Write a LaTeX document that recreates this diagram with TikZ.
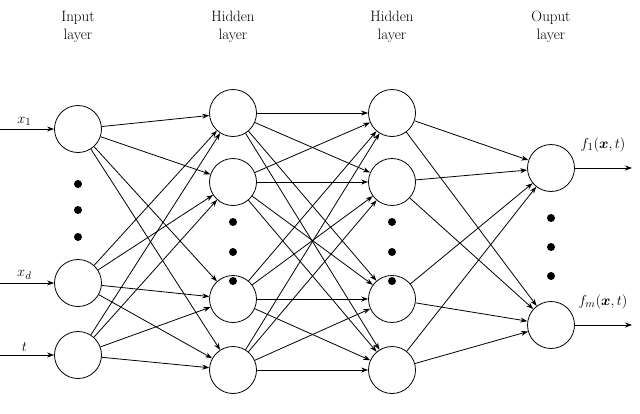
\documentclass[tikz,border=0pt]{standalone}
\usepackage{amsmath,bm}
\usetikzlibrary{arrows.meta}
\begin{document}
\begin{tikzpicture}[x=1pt,y=-1pt,line width=0.8pt,
  neu/.style={circle,draw,minimum size=47pt,inner sep=0pt},
  dot/.style={circle,fill,inner sep=0pt,minimum size=8pt},
  tx/.style={font=\fontsize{15}{18}\selectfont},
  hd/.style={align=center,tx},
  arr/.style={-{Stealth[length=7pt,width=5pt]}}]
\useasboundingbox (0,0) rectangle (640,413);
\node[neu] (i1) at (78,129) {};
\node[neu] (i2) at (78,283) {};
\node[neu] (i3) at (78,355) {};
\foreach \y [count=\k] in {113,182,299,370}{
  \node[neu] (a\k) at (233,\y) {};
  \node[neu] (b\k) at (392,\y) {};}
\node[neu] (o1) at (551,168) {};
\node[neu] (o2) at (551,325) {};
\foreach \y [count=\k] in {184,210,237}{\node[dot] (di\k) at (78,\y) {};}
\foreach \y [count=\k] in {222,252,281}{\node[dot] (da\k) at (233,\y) {};\node[dot] (db\k) at (392,\y) {};}
\foreach \y [count=\k] in {218,247,276}{\node[dot] (do\k) at (551,\y) {};}
\foreach \i in {1,2,3}{\foreach \j in {1,2,3,4}{\draw[arr] (i\i) -- (a\j);}}
\foreach \i in {1,2,3,4}{\foreach \j in {1,2,3,4}{\draw[arr] (a\i) -- (b\j);}}
\foreach \i in {1,2,3,4}{\foreach \j in {1,2}{\draw[arr] (b\i) -- (o\j);}}
\coordinate (s1) at (0,129); \coordinate (s2) at (0,283); \coordinate (s3) at (0,355);
\draw[arr] (s1) -- (i1) node[pos=0.45,above,tx] (l1) {$x_1$};
\draw[arr] (s2) -- (i2) node[pos=0.45,above,tx] (l2) {$x_d$};
\draw[arr] (s3) -- (i3) node[pos=0.45,above,tx] (l3) {$t$};
\coordinate (e1) at (632,168); \coordinate (e2) at (632,325);
\draw[arr] (o1) -- (e1);
\draw[arr] (o2) -- (e2);
\node[tx] (f1) at (603,145) {$f_1(\bm{x},t)$};
\node[tx] (f2) at (603,302) {$f_m(\bm{x},t)$};
\node[hd] (h1) at (78,27) {Input\\layer};
\node[hd] (h2) at (233,27) {Hidden\\layer};
\node[hd] (h3) at (392,27) {Hidden\\layer};
\node[hd] (h4) at (551,27) {Ouput\\layer};
\end{tikzpicture}
\end{document}
